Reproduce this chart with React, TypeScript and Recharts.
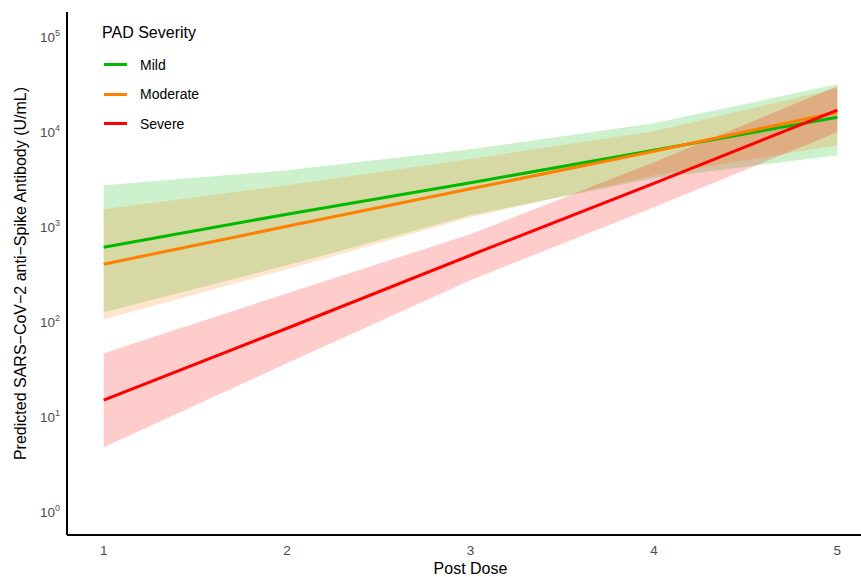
import {
  ComposedChart,
  Area,
  Line,
  XAxis,
  YAxis,
  Legend,
} from "recharts";

const doses = [1, 2, 3, 4, 5];
const severities = ["Mild", "Moderate", "Severe"];
const colors = ["#00BA00", "#FF7F00", "#FF0000"];

const mildFit = [597, 1330, 2845, 6250, 13900];
const mildLow = [124, 386, 1296, 3170, 5540];
const mildHigh = [2680, 3850, 6400, 12000, 30900];
const moderateFit = [396, 993, 2460, 6100, 15700];
const moderateLow = [104, 350, 1234, 3410, 7060];
const moderateHigh = [1500, 2680, 5060, 9900, 28000];
const severeFit = [14.7, 84, 492, 2810, 16500];
const severeLow = [4.7, 36, 269, 1570, 9670];
const severeHigh = [45.8, 196, 818, 4680, 29400];

const xTicks = [1, 2, 3, 4, 5];
const yTicks = [1, 10, 100, 1000, 10000, 100000];

const data = doses.map((dose, i) => ({
  dose,
  mild: mildFit[i],
  mildBand: [mildLow[i], mildHigh[i]],
  moderate: moderateFit[i],
  moderateBand: [moderateLow[i], moderateHigh[i]],
  severe: severeFit[i],
  severeBand: [severeLow[i], severeHigh[i]],
}));

const keys = ["mild", "moderate", "severe"];
const font = "'Liberation Sans', Arial, Helvetica, sans-serif";

const PowerTick = ({ x, y, payload }: any) => {
  const exp = Math.round(Math.log10(payload.value));
  return (
    <text x={x + 1} y={y} textAnchor="end" fill="#4D4D4D" fontSize={13.5} fontFamily={font} dy={6}>
      10
      <tspan fontSize={9} dy={-6}>
        {exp}
      </tspan>
    </text>
  );
};

const SeverityLegend = () => (
  <div style={{ fontFamily: font, color: "#000" }}>
    <div style={{ fontSize: 16, marginBottom: 8 }}>PAD Severity</div>
    {severities.map((name, i) => (
      <div
        key={name}
        style={{ display: "flex", alignItems: "center", height: 29.5 }}
      >
        <span
          style={{
            width: 23,
            height: 3,
            backgroundColor: colors[i],
            marginLeft: 2,
            marginRight: 13,
          }}
        />
        <span style={{ fontSize: 14 }}>{name}</span>
      </div>
    ))}
  </div>
);

export default function App() {
  return (
    <div
      style={{
        position: "absolute",
        left: 0,
        top: 0,
        width: 861,
        height: 577,
        overflow: "hidden",
        background: "#fff",
      }}
    >
      <ComposedChart
        width={874}
        height={577}
        data={data}
        margin={{ top: 12, right: 0, bottom: 0, left: 0 }}
      >
        <XAxis
          dataKey="dose"
          type="number"
          domain={[0.8, 5.2]}
          ticks={xTicks}
          allowDataOverflow
          height={42}
          tickLine={false}
          axisLine={{ stroke: "#000", strokeWidth: 2 }}
          tick={{ fill: "#4D4D4D", fontSize: 13.5, fontFamily: font, dy: 2 }}
          label={{
            value: "Post Dose",
            position: "insideBottom",
            offset: 3,
            style: { fill: "#000", fontSize: 16, fontFamily: font },
          }}
        />
        <YAxis
          scale="log"
          domain={[Math.pow(10, -0.25), Math.pow(10, 5.25)]}
          ticks={yTicks}
          allowDataOverflow
          width={67}
          tickLine={false}
          axisLine={{ stroke: "#000", strokeWidth: 2 }}
          tick={<PowerTick />}
          label={{
            value: "Predicted SARS\u2212CoV\u22122 anti\u2212Spike Antibody (U/mL)",
            angle: -90,
            position: "insideLeft",
            offset: 20,
            style: { fill: "#000", fontSize: 16, fontFamily: font, textAnchor: "middle" },
          }}
        />
        <Legend
          layout="horizontal"
          verticalAlign="middle"
          align="center"
          content={<SeverityLegend />}
          wrapperStyle={{ position: "absolute", left: 102, top: 24, width: 200 }}
        />
        {keys.map((k, i) => (
          <Area
            key={k + "Band"}
            dataKey={k + "Band"}
            type="linear"
            stroke="none"
            fill={colors[i]}
            fillOpacity={0.2}
            isAnimationActive={false}
            legendType="none"
          />
        ))}
        {keys.map((k, i) => (
          <Line
            key={k}
            dataKey={k}
            type="linear"
            stroke={colors[i]}
            strokeWidth={3}
            dot={false}
            activeDot={false}
            isAnimationActive={false}
            name={severities[i]}
          />
        ))}
      </ComposedChart>
    </div>
  );
}
